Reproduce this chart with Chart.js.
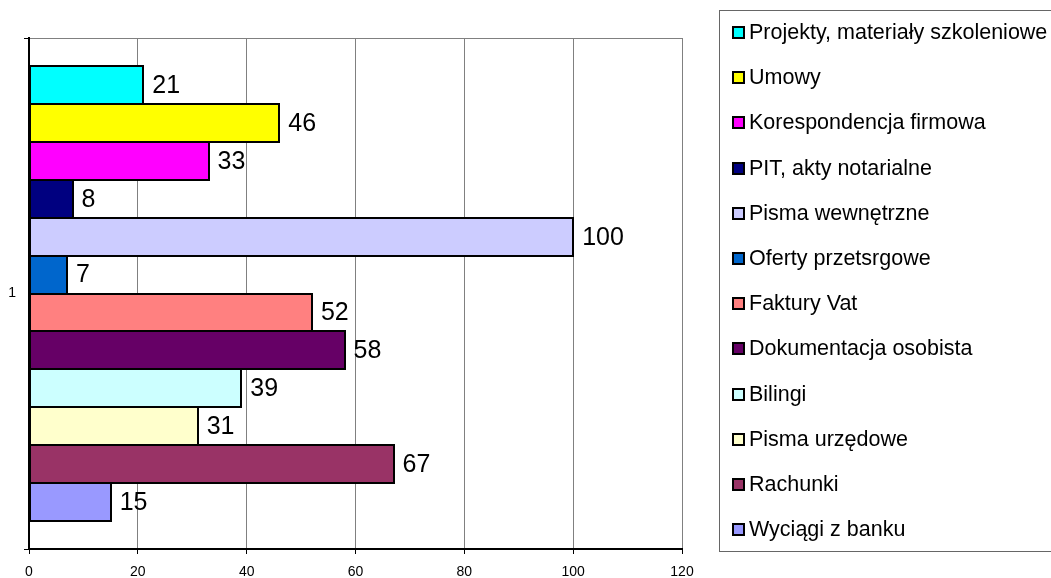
<!DOCTYPE html>
<html>
<head>
<meta charset="utf-8">
<script src="https://cdn.jsdelivr.net/npm/chart.js@4"></script>
<style>
html,body{margin:0;padding:0;background:#fff;}
#wrap{width:1051px;height:578px;position:relative;}
</style>
</head>
<body>
<div id="wrap"><canvas id="c" width="1051" height="578"></canvas></div>
<script>
const categories = ['1'];
const seriesLabels = [
  'Projekty, materiały szkoleniowe',
  'Umowy',
  'Korespondencja firmowa',
  'PIT, akty notarialne',
  'Pisma wewnętrzne',
  'Oferty przetsrgowe',
  'Faktury Vat',
  'Dokumentacja osobista',
  'Bilingi',
  'Pisma urzędowe',
  'Rachunki',
  'Wyciągi z banku'
];
const seriesValues = [21, 46, 33, 8, 100, 7, 52, 58, 39, 31, 67, 15];
const seriesColors = ['#00FFFF','#FFFF00','#FF00FF','#000080','#CCCCFF','#0066CC','#FF8080','#660066','#CCFFFF','#FFFFCC','#993366','#9999FF'];
const xTicks = [0, 20, 40, 60, 80, 100, 120];

const FONT = '"Liberation Sans", Arial, sans-serif';

const datasets = seriesLabels.map((lab, i) => ({
  label: lab,
  data: [seriesValues[i]],
  backgroundColor: seriesColors[i],
  borderWidth: 0,
  barPercentage: 1.0,
  categoryPercentage: 0.89
}));

const barOutlinesAndLabels = {
  id: 'barOutlinesAndLabels',
  afterDatasetsDraw(chart) {
    const ctx = chart.ctx;
    ctx.save();
    ctx.strokeStyle = '#000';
    ctx.lineWidth = 2;
    chart.data.datasets.forEach((ds, i) => {
      const el = chart.getDatasetMeta(i).data[0];
      const top = Math.round(el.y - el.height / 2);
      const bot = Math.round(el.y + el.height / 2);
      const left = Math.round(el.base);
      const right = Math.round(el.x);
      ctx.strokeRect(left, top, right - left, bot - top);
    });
    ctx.font = '25px ' + FONT;
    ctx.fillStyle = '#000';
    ctx.textBaseline = 'middle';
    ctx.textAlign = 'left';
    chart.data.datasets.forEach((ds, i) => {
      const el = chart.getDatasetMeta(i).data[0];
      ctx.fillText(String(ds.data[0]), el.x + 9, el.y + 1);
    });
    ctx.restore();
  }
};

const boxLegend = {
  id: 'boxLegend',
  afterDraw(chart) {
    const ctx = chart.ctx;
    ctx.save();
    ctx.strokeStyle = '#666';
    ctx.lineWidth = 1;
    ctx.strokeRect(719.5, 10.5, 340, 541);
    ctx.font = '21.5px ' + FONT;
    ctx.textBaseline = 'middle';
    ctx.textAlign = 'left';
    chart.data.datasets.forEach((ds, i) => {
      const cy = Math.round(32 + i * 45.2);
      ctx.fillStyle = '#000';
      ctx.fillRect(732, cy - 6, 13, 13);
      ctx.fillStyle = ds.backgroundColor;
      ctx.fillRect(734, cy - 4, 9, 9);
      ctx.fillStyle = '#000';
      ctx.fillText(ds.label, 749, cy + 1);
    });
    ctx.restore();
  }
};

new Chart(document.getElementById('c'), {
  type: 'bar',
  data: { labels: categories, datasets },
  options: {
    indexAxis: 'y',
    responsive: false,
    animation: false,
    layout: { padding: { left: 0, top: 38, right: 369, bottom: 0 } },
    plugins: { legend: { display: false }, tooltip: { enabled: false } },
    scales: {
      x: {
        min: 0, max: 120,
        afterBuildTicks(axis) { axis.ticks = xTicks.map(v => ({ value: v })); },
        afterFit(axis) { axis.height = 29; },
        grid: { color: '#808080', lineWidth: 1, tickColor: '#000', tickLength: 5 },
        border: { color: '#000', width: 2 },
        ticks: { color: '#000', font: { family: FONT, size: 14 }, padding: 10, maxRotation: 0 }
      },
      y: {
        afterFit(axis) { axis.width = 29; },
        grid: { offset: true, color: '#808080', lineWidth: 1, tickColor: '#000', tickLength: 5 },
        border: { color: '#000', width: 2 },
        ticks: { color: '#000', font: { family: FONT, size: 14 }, padding: 8 }
      }
    }
  },
  plugins: [barOutlinesAndLabels, boxLegend]
});
</script>
</body>
</html>
